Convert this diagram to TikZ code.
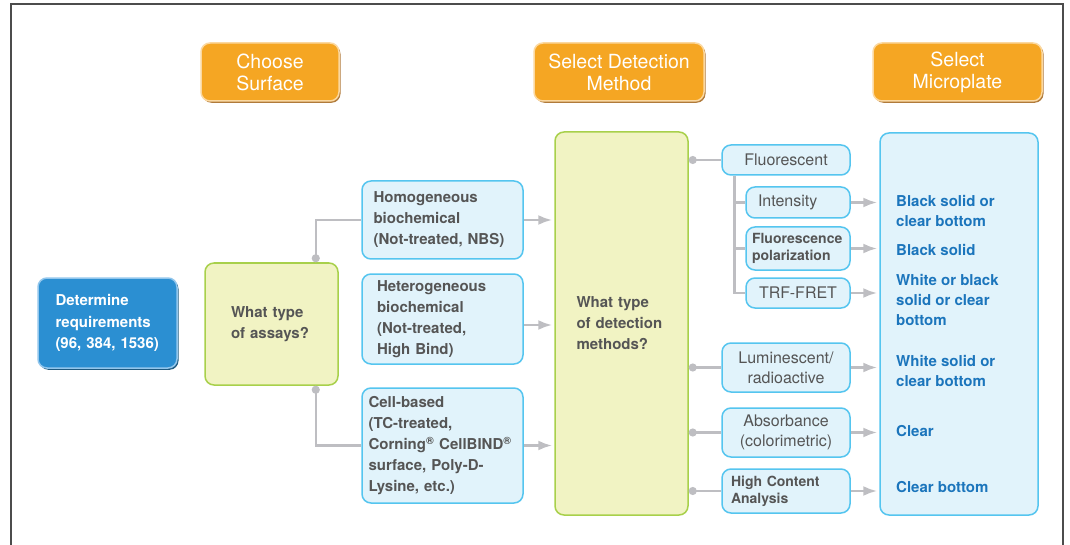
\documentclass[tikz,border=0pt]{standalone}
\usepackage{fontspec}
\setmainfont{TeX Gyre Heros}
\usepackage{tikz}
\usetikzlibrary{arrows.meta}
\usetikzlibrary{calc}
\usetikzlibrary{shadows}

\definecolor{hdrorange}{HTML}{F5A623}
\definecolor{hdrrim}{HTML}{FBD8A0}
\definecolor{hdrshade}{HTML}{B07A3A}
\definecolor{reqblue}{HTML}{2B8FD2}
\definecolor{reqrim}{HTML}{92C6EC}
\definecolor{reqshade}{HTML}{1F5A80}
\definecolor{askfill}{HTML}{F1F3C3}
\definecolor{askdraw}{HTML}{A8D04B}
\definecolor{surffill}{HTML}{E1F3FB}
\definecolor{surfdraw}{HTML}{55C5EF}
\definecolor{conngray}{HTML}{BEBEC2}
\definecolor{textgray}{HTML}{555555}
\definecolor{plateblue}{HTML}{1B75BC}

\begin{document}
\begin{tikzpicture}
[x=1pt,y=-1pt,
  hdrbox/.style={rectangle,rounded corners=9pt,fill=hdrorange,draw=hdrrim,line width=1.5pt,
    text=white,font=\fontsize{19.5}{22}\selectfont,align=center,inner sep=0pt,
    drop shadow={shadow xshift=1.5pt,shadow yshift=-1.8pt,fill=hdrshade,opacity=1}},%
  reqbox/.style={rectangle,rounded corners=9pt,fill=reqblue,draw=reqrim,line width=1.5pt,
    text=white,font=\bfseries\fontsize{15}{21.5}\selectfont,align=left,inner sep=0pt,
    drop shadow={shadow xshift=1.5pt,shadow yshift=-1.8pt,fill=reqshade,opacity=1}},%
  askbox/.style={rectangle,rounded corners=9pt,fill=askfill,draw=askdraw,line width=1.5pt,
    text=textgray,font=\bfseries\fontsize{15}{21}\selectfont,align=left,inner sep=0pt},%
  surfbox/.style={rectangle,rounded corners=9pt,fill=surffill,draw=surfdraw,line width=1.5pt,
    text=textgray,font=\bfseries\fontsize{15}{21}\selectfont,align=left,inner sep=0pt},%
  methbox/.style={surfbox,font=\fontsize{16}{20}\selectfont,align=center},%
  platebox/.style={surfbox},%
  platetext/.style={anchor=west,text=plateblue,font=\bfseries\fontsize{15}{20}\selectfont,
    align=left,inner sep=0pt},%
  treeline/.style={-,draw=conngray,line width=2.5pt},%
  dotline/.style={{Circle[length=8pt]}-,draw=conngray,line width=2.5pt},%
  arrowline/.style={-{Latex[length=14pt,width=10pt]},draw=conngray,line width=2.5pt,shorten >=2pt}]
\useasboundingbox (0,0) rectangle (1070,545);
%% frame
\draw[line width=1.5pt,draw=black!70] (11,545) -- (11,4) -- (1063,4) -- (1063,545);
%% header boxes
\node (surfhdr) at (270,72) [hdrbox,minimum width=138pt,minimum height=58pt] {Choose\\Surface};
\node (methhdr) at (619,72) [hdrbox,minimum width=170pt,minimum height=58pt] {Select Detection\\Method};
\node (platehdr) at (957.5,72) [hdrbox,minimum width=169pt,minimum height=58pt] {Select\\Microplate};
%% left column
\node (require) at (107.5,323) [reqbox,minimum width=139pt,minimum height=90pt,text width=104pt]
  {Determine\\requirements\\(96, 384, 1536)};
\node (assays) at (271.5,324) [askbox,minimum width=133pt,minimum height=122pt,text width=81pt]
  {What type\\of assays?};
%% surfaces
\node (homog) at (442.5,220) [surfbox,minimum width=161pt,minimum height=78pt,text width=138pt]
  {Homogeneous\\biochemical\\(Not-treated, NBS)};
\node (hetero) at (442.5,319) [surfbox,minimum width=161pt,minimum height=90pt,text width=131pt]
  {Heterogeneous\\biochemical\\(Not-treated,\\High Bind)};
\node (cell) at (442.5,445.5) [surfbox,minimum width=161pt,minimum height=115pt,text width=148pt]
  {Cell-based\\(TC-treated,\\Corning\textsuperscript{®} CellBIND\textsuperscript{®}\\surface, Poly-D-\\Lysine, etc.)};
\coordinate (heteroout) at ([yshift=-6pt]hetero.east);
%% detection methods
\node (detect) at (621.5,323.5) [askbox,minimum width=133pt,minimum height=383pt,text width=90pt]
  {What type\\of detection\\methods?};
\node (fluor) at (786,160) [methbox,minimum width=128pt,minimum height=30pt] {Fluorescent};
\node (inten) at (798,202.5) [methbox,minimum width=104pt,minimum height=31pt,text width=80pt,
  align=left] {Intensity};
\node (polar) at (798,248.5) [methbox,minimum width=104pt,minimum height=43pt,text width=92pt,
  align=left,font=\bfseries\fontsize{14}{17}\selectfont] {Fluorescence\\polarization};
\node (trf) at (798,293) [methbox,minimum width=104pt,minimum height=30pt] {TRF-FRET};
\node (lumin) at (786,367.5) [methbox,minimum width=128pt,minimum height=49pt] {Luminescent/\\radioactive};
\node (absorb) at (786,432.5) [methbox,minimum width=128pt,minimum height=49pt] {Absorbance\\(colorimetric)};
\node (hca) at (786,491) [methbox,minimum width=128pt,minimum height=44pt,text width=110pt,align=left,
  font=\bfseries\fontsize{14}{17}\selectfont] {High Content\\Analysis};
%% microplates
\node (plate) at (959,324) [platebox,minimum width=158pt,minimum height=382pt] {};
\foreach \name/\y/\txt in {p1/210.5/{Black solid or\\clear bottom}, p2/250/{Black solid},
  p3/300/{White or black\\solid or clear\\bottom}, p4/370.5/{White solid or\\clear bottom},
  p5/431/{Clear}, p6/487/{Clear bottom}}
{
  \node (\name) at (896,\y) [platetext] {\txt};
}
%% edges or lines
\draw[dotline] ([xshift=-23pt]assays.north east) |- (homog.west);
\draw[dotline] ([xshift=-23pt]assays.south east) |- (cell.west);
\foreach \src in {homog.east, heteroout, cell.east}
{
  \draw[arrowline] (\src) -- (\src -| detect.west);
}
\foreach \dst in {fluor, lumin, absorb, hca}
{
  \draw[dotline] (\dst.west -| detect.east) -- (\dst.west);
}
\foreach \dst in {inten, polar, trf}
{
  \draw[treeline] ([xshift=13pt]fluor.south west) |- (\dst.west);
}
\foreach \src in {inten, polar, trf, lumin, absorb, hca}
{
  \draw[arrowline] (\src.east) -- (\src.east -| plate.west);
}
\end{tikzpicture}
\end{document}
